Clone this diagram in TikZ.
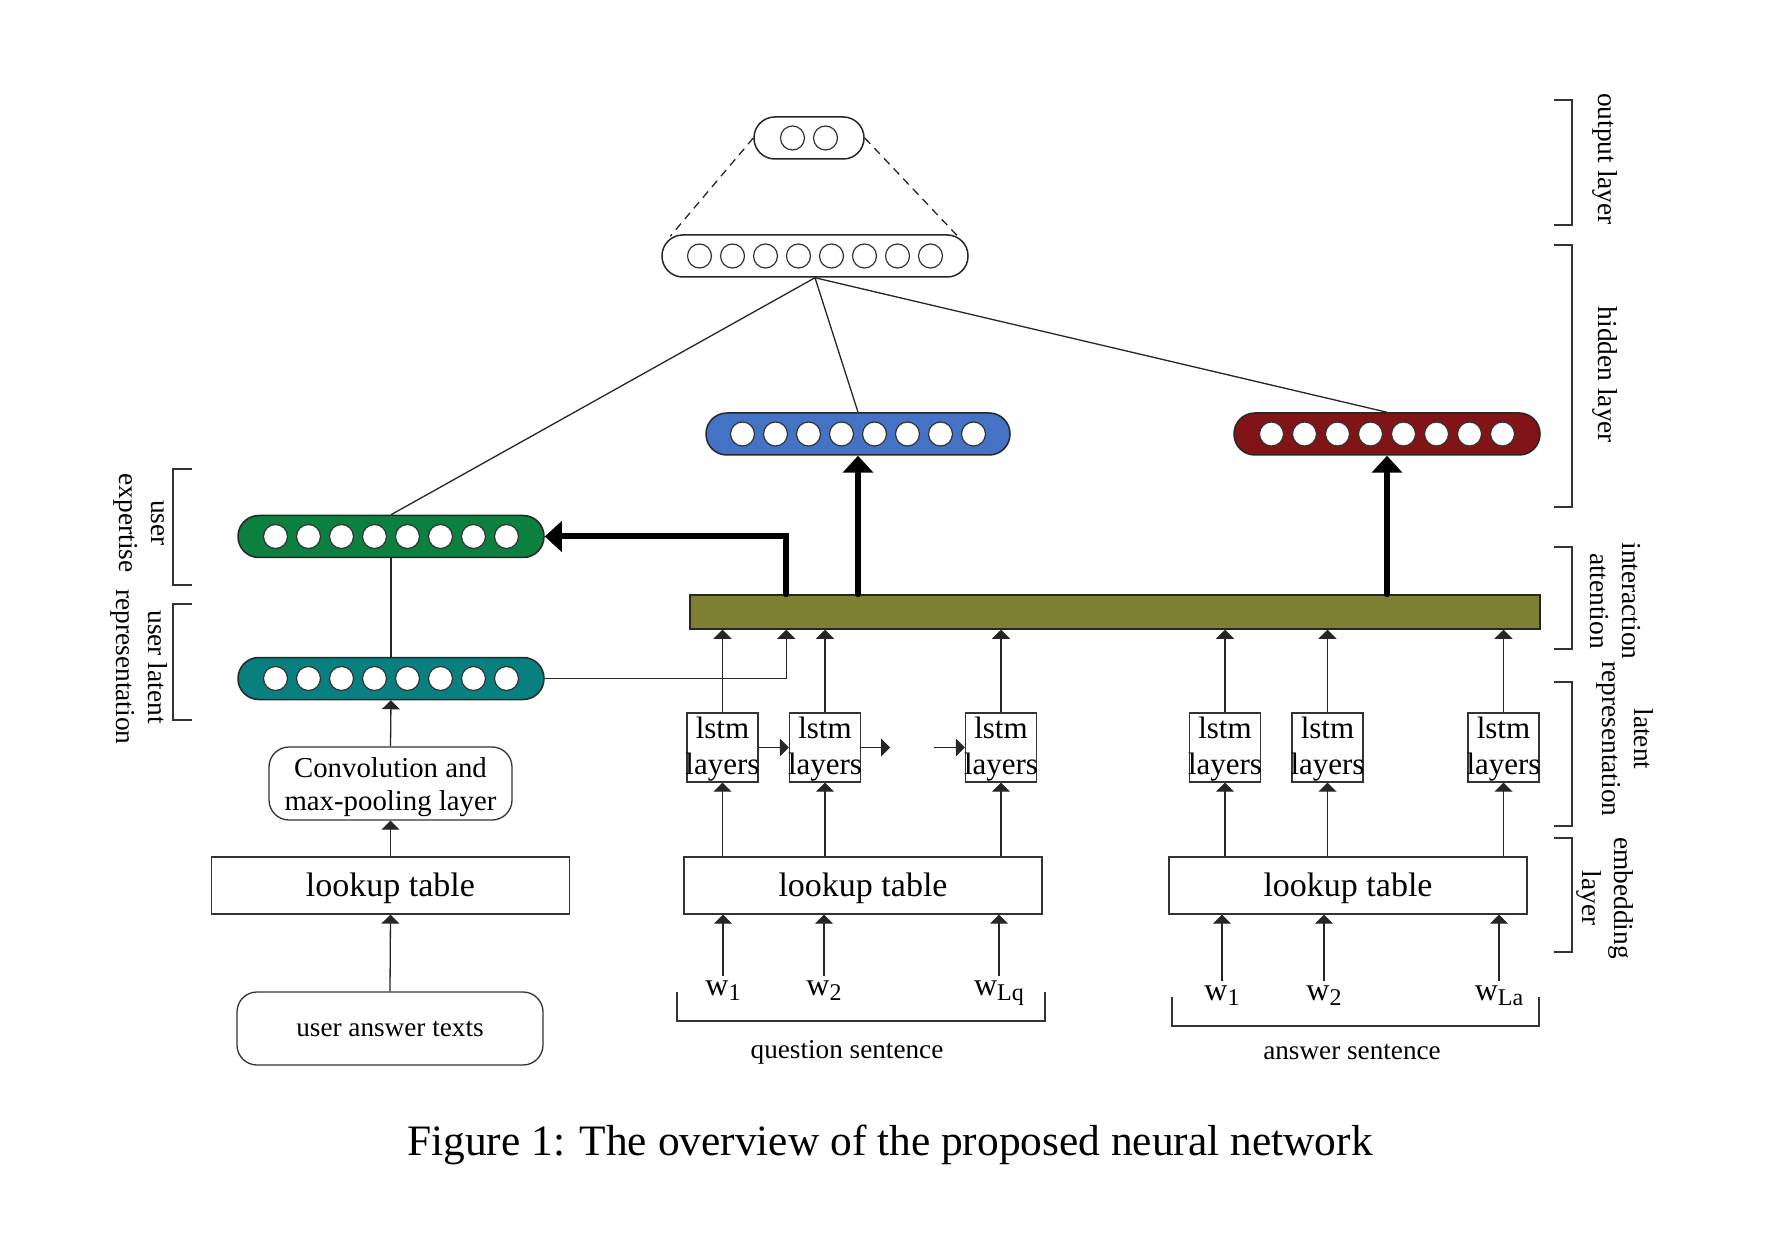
\documentclass[tikz,border=0pt]{standalone}
\usepackage{fontspec}
\setmainfont{Liberation Serif}
\usetikzlibrary{arrows.meta,calc}
\definecolor{cgreen}{RGB}{12,128,62}
\definecolor{cteal}{RGB}{8,128,128}
\definecolor{cblue}{RGB}{68,114,196}
\definecolor{cred}{RGB}{128,20,22}
\definecolor{colive}{RGB}{128,128,52}
\newcommand\wsub[1]{w\raisebox{-0.4ex}{\fontsize{12}{12}\selectfont #1}}
\newcommand\lstmtext{\makebox[0pt]{\rule{0pt}{12.8pt}lstm}\\\makebox[0pt]{layers}}
\tikzset{
  vec/.style={draw=black!85, line width=0.75pt, rounded corners=10.4pt, minimum height=21pt, minimum width=153pt, inner sep=0pt},
  neuron/.style={circle, draw=black!80, fill=white, line width=0.6pt, minimum size=12pt, inner sep=0pt},
  thinline/.style={draw=black!85, line width=0.65pt},
  thinarrow/.style={thinline, -{Triangle[width=9pt,length=4.5pt]}},
  thickarrow/.style={draw=black, line width=3pt, line cap=round, -{Triangle[width=15pt,length=8.5pt]}},
  lstmbox/.style={draw=black!80, line width=0.65pt, minimum width=35.5pt, minimum height=34.5pt, inner sep=0pt, align=center, font=\fontsize{15.5}{18}\selectfont},
  lookupbox/.style={draw=black!80, line width=0.65pt, minimum width=179pt, minimum height=28.5pt, inner sep=0pt, text height=11pt, text depth=0pt, font=\fontsize{17}{20}\selectfont},
  word/.style={inner sep=2pt, font=\fontsize{16}{18}\selectfont},
  sidelabel/.style={rotate=-90, align=center, inner sep=0pt, font=\fontsize{13.7}{16}\selectfont},
  bracketline/.style={draw=black!80, line width=0.65pt},
}
\begin{document}
\begin{tikzpicture}[x=0.5pt, y=-0.5pt]
\useasboundingbox (0,0) rectangle (1782,1240);
\fill[white] (0,0) rectangle (1782,1240);

% vectors
\node[vec, fill=cgreen] (green) at (391,536.5) {};
\node[vec, fill=cteal] (teal) at (391,678.5) {};
\node[vec, fill=cblue, minimum width=152pt] (blue) at (858,434) {};
\node[vec, fill=cred] (red) at (1387,434) {};
\node[vec, fill=white] (hid) at (815,256) {};
\node[vec, fill=white, minimum width=55pt] (out) at (809,138) {};
\foreach \n in {green,teal,blue,red,hid}{
  \foreach \k in {0,...,7}{
    \node[neuron] (\n-\k) at ($(\n.center)+({(\k-3.5)*33},0)$) {};
  }
}
\node[neuron] (out-0) at (792.5,138) {};
\node[neuron] (out-1) at (825.5,138) {};

% attention bar
\node[draw=black!85, line width=0.75pt, fill=colive, minimum width=425pt, minimum height=17pt, inner sep=0pt] (bar) at (1115,612) {};

% lstm boxes
\node[lstmbox] (q1) at (722.5,747.5) {\lstmtext};
\node[lstmbox] (q2) at (825,747.5) {\lstmtext};
\node[lstmbox] (q3) at (1001,747.5) {\lstmtext};
\node[lstmbox] (a1) at (1225,747.5) {\lstmtext};
\node[lstmbox] (a2) at (1327.5,747.5) {\lstmtext};
\node[lstmbox] (a3) at (1503.5,747.5) {\lstmtext};

% lookup tables
\node[lookupbox] (lt0) at (390.5,885.5) {lookup table};
\node[lookupbox] (lt1) at (863,885.5) {lookup table};
\node[lookupbox] (lt2) at (1348,885.5) {lookup table};

% left column
\node[draw=black!80, line width=0.65pt, rounded corners=10pt, minimum width=121.5pt, minimum height=36.5pt, inner sep=0pt, align=center, font=\fontsize{14.4}{16.5}\selectfont] (conv) at (390.5,783.5) {\rule{0pt}{13.2pt}Convolution and\\max-pooling layer};
\node[draw=black!80, line width=0.65pt, rounded corners=10pt, minimum width=153pt, minimum height=36.5pt, inner sep=0pt, font=\fontsize{13.6}{16}\selectfont] (uat) at (390,1028.5) {user answer texts};

% words
\node[word, anchor=north] (wq1) at (723,976) {\wsub{1}};
\node[word, anchor=north] (wq2) at (824,976) {\wsub{2}};
\node[word, anchor=north] (wq3) at (999,976) {\wsub{Lq}};
\node[word, anchor=north] (wa1) at (1222,981) {\wsub{1}};
\node[word, anchor=north] (wa2) at (1324,981) {\wsub{2}};
\node[word, anchor=north] (wa3) at (1499,981) {\wsub{La}};

% connectors: left column
\draw[thinarrow] (uat.north) -- (lt0.south);
\draw[thinarrow] (lt0.north) -- (conv.south);
\draw[thinarrow] (conv.north) -- (teal.south);
\draw[thinline] (teal.north) -- (green.south);

% hidden connections
\draw[thinline] (hid.south) -- (green.north);
\draw[thinline] (hid.south) -- (blue.north);
\draw[thinline] (hid.south) -- (red.north);
\draw[thinline, dashed, dash pattern=on 4pt off 3pt] (out.west) -- ($(hid.north west)+(9,2)$);
\draw[thinline, dashed, dash pattern=on 4pt off 3pt] (out.east) -- ($(hid.north east)+(-11,2)$);

% teal to bar
\draw[thinarrow] (teal.east) -| ($(bar.south west)+(97,0)$);

% thick arrows
\draw[thickarrow] ($(bar.north west)+(97,0)$) |- (green.east);
\draw[thickarrow] (bar.north -| blue.south) -- (blue.south);
\draw[thickarrow] (bar.north -| red.south) -- (red.south);

% lstm to bar, lookup to lstm
\foreach \b/\t in {q1/lt1,q2/lt1,q3/lt1,a1/lt2,a2/lt2,a3/lt2}{
  \draw[thinarrow] (\b.north) -- (\b.north |- bar.south);
  \draw[thinarrow] (\b.south |- \t.north) -- (\b.south);
}

% lstm chain
\coordinate (qa) at (890,747.5);
\coordinate (qb) at (934,747.5);
\draw[thinarrow] (q1.east) -- (q2.west);
\draw[thinarrow] (q2.east) -- (qa);
\draw[thinarrow] (qb) -- (q3.west);

% words to lookup
\foreach \w/\t in {wq1/lt1,wq2/lt1,wq3/lt1,wa1/lt2,wa2/lt2,wa3/lt2}{
  \draw[thinarrow] (\w.north) -- (\w.north |- \t.south);
}

% bottom brackets
\draw[bracketline] (677,992) -- (677,1021) -- (1045,1021) -- (1045,992);
\draw[bracketline] (1172,997) -- (1172,1026) -- (1539,1026) -- (1539,997);
\node[font=\fontsize{13.6}{16}\selectfont] (qs) at (847,1052) {question sentence};
\node[font=\fontsize{13.6}{16}\selectfont] (as) at (1352,1052) {answer sentence};

% right brackets
\draw[bracketline] (1554,100) -- (1572,100) -- (1572,225) -- (1554,225);
\draw[bracketline] (1554,245) -- (1572,245) -- (1572,507) -- (1554,507);
\draw[bracketline] (1554,547) -- (1572,547) -- (1572,649) -- (1554,649);
\draw[bracketline] (1554,682) -- (1572,682) -- (1572,826) -- (1554,826);
\draw[bracketline] (1554,838) -- (1572,838) -- (1572,952) -- (1554,952);
\node[sidelabel] (l-out) at (1605,159) {output layer};
\node[sidelabel] (l-hid) at (1605,375) {hidden layer};
\node[sidelabel] (l-att) at (1615,601) {interaction\\attention};
\node[sidelabel] (l-lat) at (1625,739) {latent\\representation};
\node[sidelabel] (l-emb) at (1605,898) {embedding\\layer};

% left brackets
\draw[bracketline] (192,469) -- (173,469) -- (173,585) -- (192,585);
\draw[bracketline] (192,604) -- (173,604) -- (173,720) -- (192,720);
\node[sidelabel] (l-ue) at (139,523) {user\\expertise};
\node[sidelabel] (l-ul) at (139,667) {user latent\\representation};

% caption
\node[font=\fontsize{21.7}{26}\selectfont] (cap) at (890,1144.5) {Figure 1: The overview of the proposed neural network};
\end{tikzpicture}
\end{document}
